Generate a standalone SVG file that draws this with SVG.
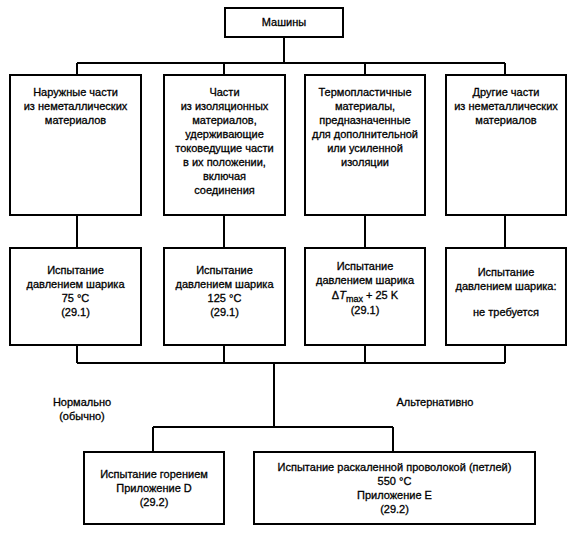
<svg xmlns="http://www.w3.org/2000/svg" width="573" height="536" viewBox="0 0 573 536">
<style>
.box{fill:#fff;stroke:#000;stroke-width:2}
.ln{fill:none;stroke:#000;stroke-width:2}
text{font-family:"Liberation Sans",Arial,sans-serif;font-size:11px;fill:#000;stroke:#000;stroke-width:0.3;text-anchor:middle}
</style>
<rect width="573" height="536" fill="#fff"/>
<g id="connectors">
<path class="ln" d="M284 37V63M77 63H505M77 63V75M224 63V75M365 63V75M505 63V75"/>
<path class="ln" d="M77 215V248M224 215V248M365 215V248M505 215V248"/>
<path class="ln" d="M77 345V363M224 345V363M365 345V363M505 345V363M77 363H505M274 363V427M153 427H393M153 427V452M393 427V452"/>
</g>
<g id="machines"><rect class="box" x="225" y="8" width="118" height="29"/><text x="284" y="26">Машины</text></g>
<g id="n1"><rect class="box" x="10" y="75" width="131" height="140"/>
<text x="75.5" y="96">Наружные части</text><text x="75.5" y="110">из неметаллических</text><text x="75.5" y="124">материалов</text></g>
<g id="n2"><rect class="box" x="164" y="75" width="121" height="140"/>
<text x="224.5" y="96">Части</text><text x="224.5" y="110">из изоляционных</text><text x="224.5" y="124">материалов,</text><text x="224.5" y="138">удерживающие</text><text x="224.5" y="152">токоведущие части</text><text x="224.5" y="166">в их положении,</text><text x="224.5" y="180">включая</text><text x="224.5" y="194">соединения</text></g>
<g id="n3"><rect class="box" x="305" y="75" width="120" height="140"/>
<text x="365" y="96">Термопластичные</text><text x="365" y="110">материалы,</text><text x="365" y="124">предназначенные</text><text x="365" y="138">для дополнительной</text><text x="365" y="152">или усиленной</text><text x="365" y="166">изоляции</text></g>
<g id="n4"><rect class="box" x="446" y="75" width="120" height="140"/>
<text x="506" y="96">Другие части</text><text x="506" y="110">из неметаллических</text><text x="506" y="124">материалов</text></g>
<g id="t1"><rect class="box" x="10" y="248" width="131" height="97"/>
<text x="75.5" y="274">Испытание</text><text x="75.5" y="288">давлением шарика</text><text x="75.5" y="302">75 °C</text><text x="75.5" y="316">(29.1)</text></g>
<g id="t2"><rect class="box" x="164" y="248" width="121" height="97"/>
<text x="224.5" y="274">Испытание</text><text x="224.5" y="288">давлением шарика</text><text x="224.5" y="302">125 °C</text><text x="224.5" y="316">(29.1)</text></g>
<g id="t3"><rect class="box" x="305" y="248" width="120" height="97"/>
<text x="365" y="270">Испытание</text><text x="365" y="284">давлением шарика</text><text x="365" y="299">Δ<tspan font-style="italic">T</tspan><tspan font-size="9" dy="3">max</tspan><tspan dy="-3"> + 25 K</tspan></text><text x="365" y="314">(29.1)</text></g>
<g id="t4"><rect class="box" x="446" y="248" width="120" height="97"/>
<text x="506" y="276">Испытание</text><text x="506" y="290">давлением шарика:</text><text x="506" y="316">не требуется</text></g>
<g id="labels"><text x="82" y="406">Нормально</text><text x="82" y="420">(обычно)</text><text x="435" y="406">Альтернативно</text></g>
<g id="b1"><rect class="box" x="84" y="452" width="140" height="72"/>
<text x="154" y="478">Испытание горением</text><text x="154" y="492">Приложение D</text><text x="154" y="506">(29.2)</text></g>
<g id="b2"><rect class="box" x="254" y="452" width="281" height="72"/>
<text x="394.5" y="471">Испытание раскаленной проволокой (петлей)</text><text x="394.5" y="485">550 °C</text><text x="394.5" y="499">Приложение E</text><text x="394.5" y="513">(29.2)</text></g>
</svg>
